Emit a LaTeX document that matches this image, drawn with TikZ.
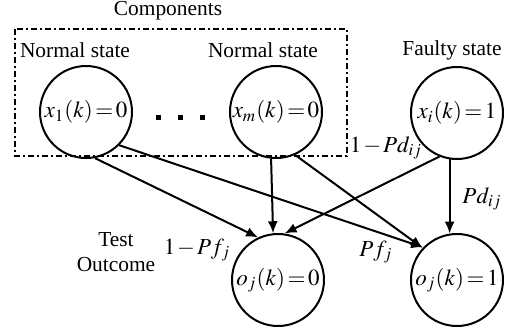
\documentclass[tikz,border=0pt]{standalone}
\usepackage{mathptmx}
\usepackage{fontspec}
\setmainfont{Liberation Serif}
\usetikzlibrary{arrows.meta}

\tikzset{
  state/.style={circle,draw,line width=1pt,minimum size=46pt,inner sep=0pt,
    font=\fontsize{11.5}{14}\selectfont,execute at begin node={\thickmuskip=2mu\relax}},
  caption/.style={font=\fontsize{10.7}{12.5}\selectfont,align=center},
  prob/.style={font=\fontsize{11.5}{14}\selectfont,execute at begin node={\medmuskip=1.5mu\relax}},
  link/.style={line width=1pt,-{Latex[length=6pt,width=5pt]}},
  group/.style={line width=1pt,dash pattern=on 3pt off 1.5pt on 1pt off 1.5pt}
}

\begin{document}
\begin{tikzpicture}[x=0.5pt,y=-0.5pt]
    \useasboundingbox (0,0) rectangle (511,333);
    % components
    \draw[group] (15,29) rectangle (347,156);
    \node[caption] (comp) at (168,11) {Components};
    \node[caption] (ns1) at (75,50) {Normal state};
    \node[caption] (ns2) at (263,50) {Normal state};
    \node[caption] (fs) at (452,50) {Faulty state};
    \node[state] (x1) at (86,112) {$x_1(k)=0$};
    \node[state] (xm) at (276,112) {$x_m(k)=0$};
    \node[state] (xi) at (457,113) {$x_i(k)=1$};
    \foreach \dx in {159,181,203}
        \fill (\dx-2.5,114.5) rectangle (\dx+2.5,119.5);
    % test outcomes
    \node[caption] (test) at (116,252) {Test\\Outcome};
    \node[state] (o0) at (278,280) {$o_j(k)=0$};
    \node[state] (o1) at (457,280) {$o_j(k)=1$};
    \draw[link] (x1.-79) -- (o0.115);
    \draw[link] (x1.-45) -- (o1.136);
    \draw[link] (xm.-96) -- (o0.96);
    \draw[link] (xm.-66) -- (o1.137);
    \draw[link] (xi.-112) -- (o0.82);
    \draw[link] (xi.-99) -- (o1.99);
    \node[prob] (pmd) at (386,148) {$1-Pd_{ij}$};
    \node[prob] (pd) at (482,199) {$Pd_{ij}$};
    \node[prob] (pf) at (376,252) {$Pf_j$};
    \node[prob] (pmf) at (197,250) {$1-Pf_j$};
\end{tikzpicture}
\end{document}
